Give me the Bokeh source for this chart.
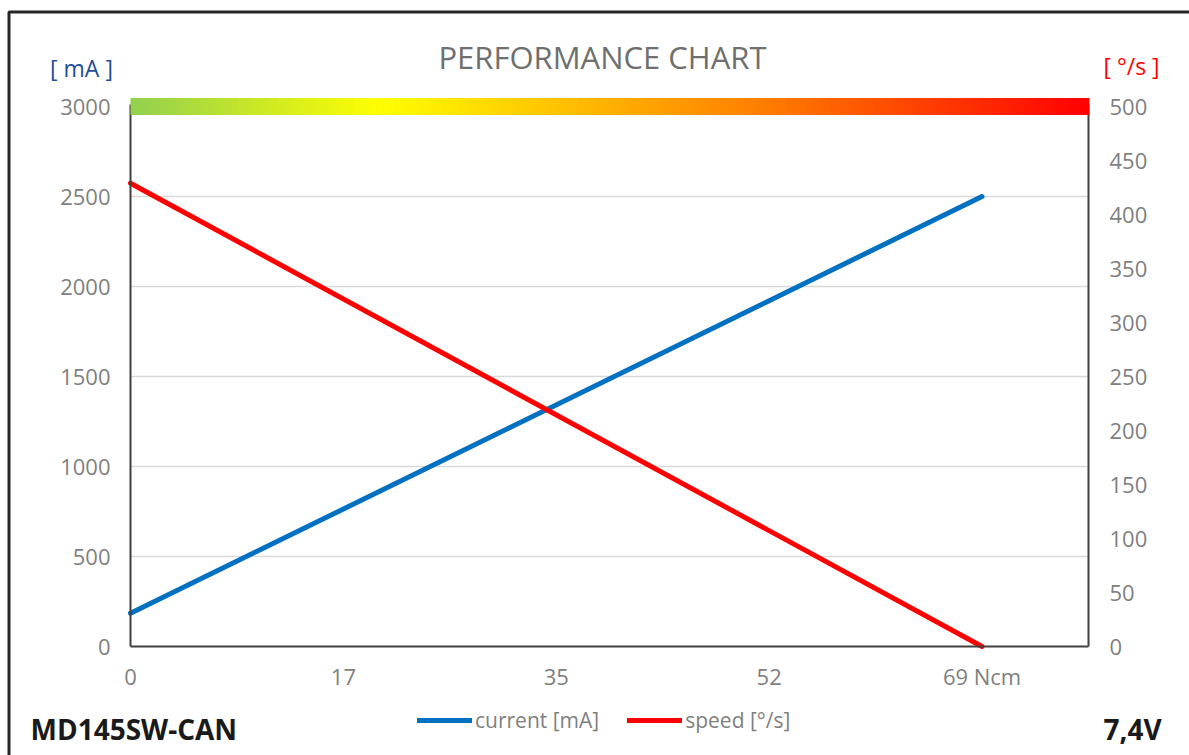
from bokeh.plotting import figure
from bokeh.models import (LinearAxis, Range1d, FixedTicker, Label, Legend,
                          LegendItem, BoxAnnotation, ColumnDataSource)
from bokeh.embed import file_html
from bokeh.resources import INLINE

# ---------------- data ----------------
torque_ncm = [0, 69]
current_mA = [185, 2500]
speed_dps = [429, 0]

x_ticks = [0, 17.25, 34.5, 51.75, 69]
x_tick_labels = ["0", "17", "35", "52", "69 Ncm"]
left_ticks = [0, 500, 1000, 1500, 2000, 2500, 3000]
right_ticks = [0, 50, 100, 150, 200, 250, 300, 350, 400, 450, 500]

title_text = "PERFORMANCE CHART"
left_unit = "[ mA ]"
right_unit = "[ °/s ]"
model_name = "MD145SW-CAN"
voltage = "7,4V"
legend_labels = ["current [mA]", "speed [°/s]"]

# gradient colour stops for the top band (fraction, colour)
grad_stops = [(0.0, (0x92, 0xd0, 0x50)), (0.26, (0xff, 0xff, 0x00)),
              (0.50, (0xff, 0xb0, 0x00)), (0.67, (0xff, 0x7a, 0x00)),
              (1.0, (0xff, 0x00, 0x00))]

# ---------------- layout (pixels) ----------------
W, H = 1189, 755
PX_LEFT, PX_RIGHT = 130, 1088      # plot area left / right
PX_BOTTOM, PX_TOP = 646, 106       # y of value 0 and of 3000
X_END = 69 * 4.5 / 4               # x extent of plot area in data units
Y_MAX = 3000
sx = (PX_RIGHT - PX_LEFT) / X_END
sy = (PX_BOTTOM - PX_TOP) / Y_MAX
x0 = -PX_LEFT / sx
x1 = (W - PX_LEFT) / sx
y0 = -(H - PX_BOTTOM) / sy
y1 = PX_BOTTOM / sy

p = figure(width=W, height=H, output_backend="svg", toolbar_location=None,
           x_range=Range1d(x0, x1), y_range=Range1d(y0, y1),
           min_border=0, outline_line_color=None,
           x_axis_type=None, y_axis_type=None,
           background_fill_color="white", border_fill_color="white")
p.extra_y_ranges = {"speed": Range1d(y0 / 6.0, y1 / 6.0)}
p.xgrid.visible = False
p.ygrid.visible = False

axis_col = "#404040"
tick_col = "#7f7f7f"
font = "Open Sans"


def style_axis(ax, standoff):
    ax.axis_line_color = axis_col
    ax.axis_line_width = 2
    ax.major_tick_line_color = None
    ax.minor_tick_line_color = None
    ax.major_tick_out = 0
    ax.major_tick_in = 0
    ax.major_label_text_color = tick_col
    ax.major_label_text_font = font
    ax.major_label_text_font_size = "22px"
    ax.major_label_standoff = standoff


xa = LinearAxis(ticker=FixedTicker(ticks=x_ticks), fixed_location=0,
                bounds=(0, X_END))
xa.major_label_overrides = {t: l for t, l in zip(x_ticks, x_tick_labels)}
style_axis(xa, 14)
p.add_layout(xa, "below")

ya = LinearAxis(ticker=FixedTicker(ticks=left_ticks), fixed_location=0,
                bounds=(0, Y_MAX + 10))
style_axis(ya, 20)
p.add_layout(ya, "left")

ra = LinearAxis(y_range_name="speed", ticker=FixedTicker(ticks=right_ticks),
                fixed_location=X_END, bounds=(0, (Y_MAX + 10) / 6.0))
style_axis(ra, 21)
p.add_layout(ra, "right")

# horizontal grid lines
grid_vals = left_ticks[1:]
p.segment(x0=[0] * len(grid_vals), x1=[X_END] * len(grid_vals),
          y0=grid_vals, y1=grid_vals, line_color="#d9d9d9", line_width=1.5)

# ---------------- gradient band ----------------
N = 240
lefts, rights, cols = [], [], []
for i in range(N):
    f = (i + 0.5) / N
    for (f0, c0), (f1, c1) in zip(grad_stops[:-1], grad_stops[1:]):
        if f0 <= f <= f1:
            t = (f - f0) / (f1 - f0)
            c = tuple(int(round(a + (b - a) * t)) for a, b in zip(c0, c1))
            break
    lefts.append(X_END * i / N)
    rights.append(X_END * (i + 1) / N + X_END * 0.001)
    cols.append("#%02x%02x%02x" % c)
band_bottom = Y_MAX - 8.5 / sy
band_top = Y_MAX + 8.5 / sy
band = ColumnDataSource(dict(left=lefts, right=rights, color=cols,
                             bottom=[band_bottom] * N, top=[band_top] * N))
br = p.quad(left="left", right="right", bottom="bottom", top="top",
            fill_color="color", line_color=None, source=band)
br.level = "overlay"

# ---------------- series ----------------
r_cur = p.line(torque_ncm, current_mA, line_color="#0070c0", line_width=5,
               line_cap="round")
r_spd = p.line(torque_ncm, speed_dps, y_range_name="speed",
               line_color="#ff0000", line_width=5, line_cap="round")

legend = Legend(items=[LegendItem(label=legend_labels[0], renderers=[r_cur]),
                       LegendItem(label=legend_labels[1], renderers=[r_spd])],
                orientation="horizontal", location=(417, 21),
                glyph_width=55, glyph_height=24, label_height=24,
                label_standoff=3, spacing=28, padding=0, margin=0,
                border_line_color=None, background_fill_alpha=0,
                label_text_color=tick_col, label_text_font=font,
                label_text_font_size="21px")
p.add_layout(legend, "center")


# ---------------- texts ----------------
def add_label(text, x, y, size, color, align="center", bold=False):
    p.add_layout(Label(text=text, x=x, y=H - y, x_units="screen",
                       y_units="screen", text_font=font, text_font_size=size,
                       text_color=color, text_align=align,
                       text_baseline="middle",
                       text_font_style="bold" if bold else "normal"))


add_label(title_text, 602, 56, "31px", "#6f6f6f")
add_label(left_unit, 81, 67, "23px", "#1f4e96")
add_label(right_unit, 1131, 65, "23px", "#ff0000")
add_label(model_name, 30, 728, "28px", "#1a1a1a", align="left", bold=True)
add_label(voltage, 1103, 728, "28px", "#1a1a1a", align="left", bold=True)

# outer frame of the chart (right and bottom edges lie outside the view)
p.add_layout(BoxAnnotation(left=8.5, right=W + 40, top=11.5, bottom=H + 40,
                           left_units="canvas", right_units="canvas",
                           top_units="canvas", bottom_units="canvas",
                           fill_alpha=0, line_color="#262626", line_alpha=1.0,
                           line_width=3, level="overlay"))

open("out.html", "w").write(file_html(p, INLINE))
